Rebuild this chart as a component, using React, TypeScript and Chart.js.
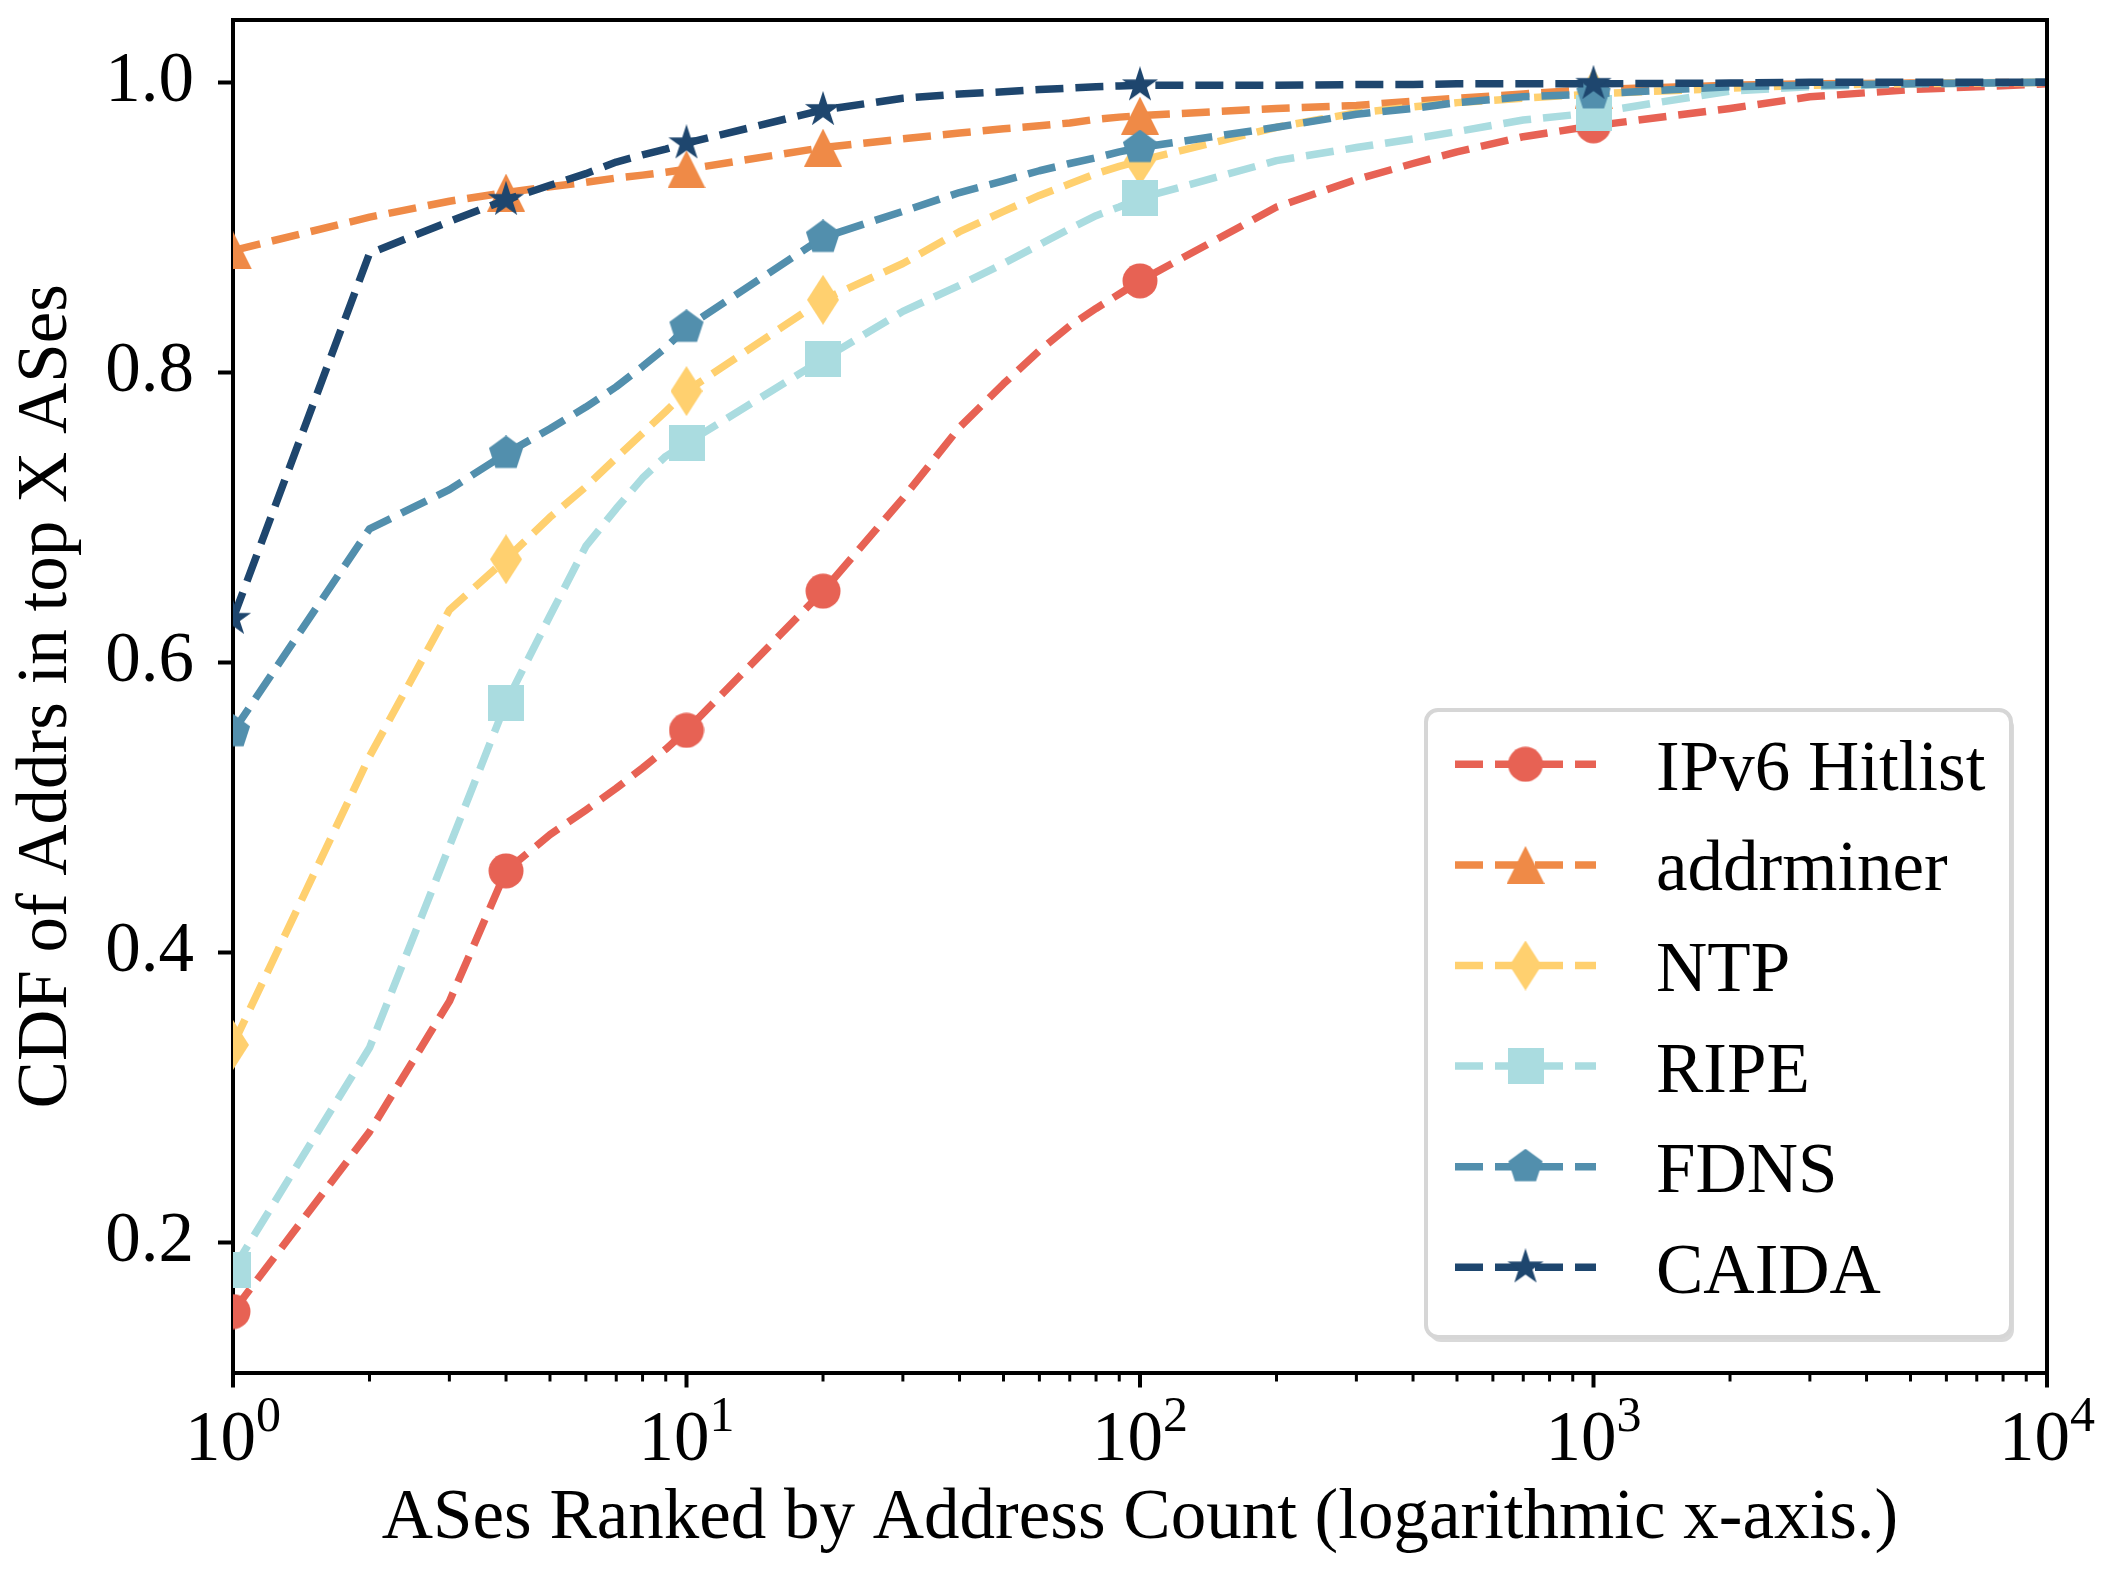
import React, { useEffect, useRef } from 'react';
import { Chart, registerables } from 'chart.js';

Chart.register(...registerables);

// ---------------- data ----------------
const ranks = [1, 2, 3, 4, 5, 6, 7, 8, 9, 10, 20, 30, 40, 50, 60, 70, 80, 90, 100, 200, 300, 400, 500, 700, 1000, 2000, 3000, 5000, 10000];

const ipv6Hitlist = [0.152, 0.276, 0.366, 0.456, 0.481, 0.498, 0.513, 0.527, 0.540, 0.553, 0.649, 0.713, 0.762, 0.792, 0.815, 0.832, 0.844, 0.854, 0.863, 0.914, 0.933, 0.944, 0.952, 0.9625, 0.970, 0.982, 0.990, 0.995, 0.999];
const addrminer = [0.884, 0.907, 0.918, 0.924, 0.928, 0.931, 0.934, 0.936, 0.938, 0.940, 0.955, 0.961, 0.965, 0.968, 0.970, 0.972, 0.9745, 0.976, 0.977, 0.982, 0.984, 0.987, 0.989, 0.992, 0.995, 0.998, 0.999, 0.9995, 1.0];
const ntp = [0.336, 0.535, 0.636, 0.671, 0.700, 0.721, 0.741, 0.758, 0.773, 0.787, 0.850, 0.875, 0.897, 0.911, 0.922, 0.930, 0.937, 0.942, 0.946, 0.969, 0.979, 0.983, 0.986, 0.989, 0.992, 0.996, 0.998, 0.999, 1.0];
const ripe = [0.181, 0.334, 0.473, 0.572, 0.632, 0.680, 0.706, 0.727, 0.742, 0.751, 0.809, 0.842, 0.860, 0.875, 0.888, 0.899, 0.908, 0.914, 0.920, 0.946, 0.955, 0.961, 0.966, 0.974, 0.979, 0.994, 0.997, 0.999, 1.0];
const fdns = [0.552, 0.692, 0.719, 0.744, 0.761, 0.776, 0.790, 0.804, 0.817, 0.831, 0.893, 0.911, 0.924, 0.932, 0.939, 0.944, 0.948, 0.952, 0.955, 0.969, 0.978, 0.982, 0.986, 0.990, 0.992, 0.997, 0.998, 0.999, 1.0];
const caida = [0.630, 0.882, 0.904, 0.919, 0.929, 0.937, 0.945, 0.950, 0.954, 0.958, 0.981, 0.989, 0.992, 0.9935, 0.995, 0.996, 0.997, 0.9975, 0.998, 0.998, 0.9985, 0.9985, 0.999, 0.999, 0.999, 0.9995, 1.0, 1.0, 1.0];

const seriesNames = ['IPv6 Hitlist', 'addrminer', 'NTP', 'RIPE', 'FDNS', 'CAIDA'];
const seriesValues = [ipv6Hitlist, addrminer, ntp, ripe, fdns, caida];
const seriesColors = ['#E76254', '#EF8A47', '#FFD06F', '#AADCE0', '#528FAD', '#1E466E'];
type Shape = 'circle' | 'triangle' | 'thinDiamond' | 'square' | 'pentagon' | 'star';
const seriesMarkers: Shape[] = ['circle', 'triangle', 'thinDiamond', 'square', 'pentagon', 'star'];
const markerRanks = [1, 4, 10, 20, 100, 1000];

const yTickValues = [0.2, 0.4, 0.6, 0.8, 1.0];
const xMajorTicks = [1, 10, 100, 1000, 10000];
const xTickExponents = ['0', '1', '2', '3', '4'];
const xMin = 1;
const xMax = 10000;
const yMin = 0.110;
const yMax = 1.043;
const xTitle = 'ASes Ranked by Address Count (logarithmic x-axis.)';
const yTitle = 'CDF of Addrs in top X ASes';

// ---------------- styling ----------------
const FONT = "'Liberation Serif', 'Times New Roman', serif";
const FS = 71;
const W = 2113;
const H = 1574;
const LW = 7.5;
const DASH = [28, 12];

function makeMarker(shape: Shape, color: string): HTMLCanvasElement {
  const c = document.createElement('canvas');
  let w = 36;
  let h = 36;
  if (shape === 'triangle') { w = 38; h = 38; }
  else if (shape === 'thinDiamond') { w = 32; h = 50; }
  else if (shape === 'star') { w = 38; h = 38; }
  c.width = w;
  c.height = h;
  const g = c.getContext('2d')!;
  g.fillStyle = color;
  g.beginPath();
  const cx = w / 2;
  const cy = h / 2;
  if (shape === 'circle') {
    g.arc(cx, cy, 17.5, 0, Math.PI * 2);
  } else if (shape === 'triangle') {
    g.moveTo(cx, 0); g.lineTo(w, h); g.lineTo(0, h);
  } else if (shape === 'thinDiamond') {
    g.moveTo(cx, 0); g.lineTo(w, cy); g.lineTo(cx, h); g.lineTo(0, cy);
  } else if (shape === 'square') {
    g.rect(0, 0, w, h);
  } else if (shape === 'pentagon') {
    const R = 18;
    for (let k = 0; k < 5; k++) {
      const a = -Math.PI / 2 + (k * 2 * Math.PI) / 5;
      const px = cx + R * Math.cos(a);
      const py = cy + R * Math.sin(a);
      if (k === 0) g.moveTo(px, py); else g.lineTo(px, py);
    }
  } else {
    const R = 19;
    const r = R * 0.381966;
    for (let k = 0; k < 10; k++) {
      const a = -Math.PI / 2 + (k * Math.PI) / 5;
      const rr = k % 2 === 0 ? R : r;
      const px = cx + rr * Math.cos(a);
      const py = cy + rr * Math.sin(a);
      if (k === 0) g.moveTo(px, py); else g.lineTo(px, py);
    }
  }
  g.closePath();
  g.fill();
  return c;
}

function roundRect(ctx: CanvasRenderingContext2D, x: number, y: number, w: number, h: number, r: number) {
  ctx.beginPath();
  ctx.moveTo(x + r, y);
  ctx.lineTo(x + w - r, y);
  ctx.arcTo(x + w, y, x + w, y + r, r);
  ctx.lineTo(x + w, y + h - r);
  ctx.arcTo(x + w, y + h, x + w - r, y + h, r);
  ctx.lineTo(x + r, y + h);
  ctx.arcTo(x, y + h, x, y + h - r, r);
  ctx.lineTo(x, y + r);
  ctx.arcTo(x, y, x + r, y, r);
  ctx.closePath();
}

function makeOverlay(markers: HTMLCanvasElement[]) {
  return {
    id: 'mplOverlay',
    afterDraw(chart: any) {
      const ctx: CanvasRenderingContext2D = chart.ctx;
      const a = chart.chartArea;
      const xs = chart.scales.x;
      ctx.save();
      ctx.strokeStyle = '#000';
      ctx.lineCap = 'butt';
      // top and right spines
      ctx.lineWidth = 4;
      ctx.beginPath();
      ctx.moveTo(a.left - 2, a.top);
      ctx.lineTo(a.right + 2, a.top);
      ctx.moveTo(a.right, a.top);
      ctx.lineTo(a.right, a.bottom + 2);
      ctx.stroke();
      // x ticks (major + minor)
      for (let d = 0; d < 4; d++) {
        for (let k = 1; k < 10; k++) {
          const v = k * Math.pow(10, d);
          const px = xs.getPixelForValue(v);
          const major = k === 1;
          ctx.lineWidth = major ? 4 : 3;
          ctx.beginPath();
          ctx.moveTo(px, a.bottom);
          ctx.lineTo(px, a.bottom + (major ? 15 : 9));
          ctx.stroke();
        }
      }
      {
        const px = xs.getPixelForValue(xMax);
        ctx.lineWidth = 4;
        ctx.beginPath();
        ctx.moveTo(px, a.bottom);
        ctx.lineTo(px, a.bottom + 15);
        ctx.stroke();
      }
      // x tick labels with superscripts
      ctx.fillStyle = '#000';
      ctx.textBaseline = 'alphabetic';
      ctx.textAlign = 'left';
      const baseY = a.bottom + 87;
      xMajorTicks.forEach((v, i) => {
        const px = xs.getPixelForValue(v);
        ctx.font = `${FS}px ${FONT}`;
        const wBase = ctx.measureText('10').width;
        ctx.font = `${Math.round(FS * 0.7)}px ${FONT}`;
        const wExp = ctx.measureText(xTickExponents[i]).width;
        const x0 = px - (wBase + wExp) / 2;
        ctx.font = `${FS}px ${FONT}`;
        ctx.fillText('10', x0, baseY);
        ctx.font = `${Math.round(FS * 0.7)}px ${FONT}`;
        ctx.fillText(xTickExponents[i], x0 + wBase, baseY - 29);
      });
      // legend
      const bx = 1426;
      const by = 710;
      const bw = 585;
      const bh = 627;
      ctx.fillStyle = 'rgba(0,0,0,0.15)';
      roundRect(ctx, bx + 3, by + 5, bw, bh, 12);
      ctx.fill();
      ctx.fillStyle = '#fff';
      roundRect(ctx, bx, by, bw, bh, 12);
      ctx.fill();
      ctx.strokeStyle = '#d6d6d6';
      ctx.lineWidth = 4;
      ctx.stroke();
      seriesNames.forEach((name, i) => {
        const cy = 764.3 + i * 100.6;
        ctx.strokeStyle = seriesColors[i];
        ctx.lineWidth = LW;
        ctx.setLineDash(DASH);
        ctx.beginPath();
        ctx.moveTo(1455, cy);
        ctx.lineTo(1596, cy);
        ctx.stroke();
        ctx.setLineDash([]);
        const m = markers[i];
        ctx.drawImage(m, 1525.5 - m.width / 2, cy - m.height / 2);
        ctx.fillStyle = '#000';
        ctx.font = `${FS}px ${FONT}`;
        ctx.fillText(name, 1656, cy + 25.5);
      });
      ctx.restore();
    },
  };
}

export default function App() {
  const ref = useRef<HTMLCanvasElement | null>(null);

  useEffect(() => {
    const canvas = ref.current;
    if (!canvas) return;
    Chart.defaults.font.family = FONT;
    const markers = seriesMarkers.map((s, i) => makeMarker(s, seriesColors[i]));
    const datasets = seriesNames.map((name, i) => ({
      label: name,
      data: ranks.map((r, j) => ({ x: r, y: seriesValues[i][j] })),
      borderColor: seriesColors[i],
      backgroundColor: seriesColors[i],
      borderWidth: LW,
      borderDash: DASH,
      borderCapStyle: 'butt' as const,
      borderJoinStyle: 'round' as const,
      tension: 0,
      fill: false,
      clip: 0,
      order: seriesNames.length - 1 - i,
      pointStyle: markers[i] as any,
      pointRadius: (c: any) => (markerRanks.includes(ranks[c.dataIndex]) ? 18 : 0),
      pointHoverRadius: 0,
      pointBorderWidth: 0,
    }));

    const chart = new Chart(canvas, {
      type: 'line',
      data: { datasets },
      options: {
        animation: false,
        responsive: false,
        events: [],
        layout: { padding: { left: 0, top: 20, right: 66, bottom: 0 } },
        plugins: {
          legend: { display: false },
          tooltip: { enabled: false },
        },
        scales: {
          x: {
            type: 'logarithmic',
            min: xMin,
            max: xMax,
            grid: { display: false },
            border: { display: true, color: '#000', width: 4 },
            ticks: { display: false },
            title: {
              display: true,
              text: xTitle,
              color: '#000',
              font: { family: FONT, size: FS },
              padding: { top: 0, bottom: 12 },
            },
            afterFit: (s: any) => {
              s.height = 201.5;
              s.paddingLeft = 0;
              s.paddingRight = 0;
            },
          },
          y: {
            type: 'linear',
            min: yMin,
            max: yMax,
            afterBuildTicks: (s: any) => { s.ticks = yTickValues.map((v) => ({ value: v })); },
            grid: {
              display: true,
              drawOnChartArea: false,
              drawTicks: true,
              tickLength: 15,
              tickWidth: 4,
              tickColor: '#000',
            },
            border: { display: true, color: '#000', width: 4 },
            ticks: {
              color: '#000',
              font: { family: FONT, size: FS },
              padding: 24,
              callback: (v: any) => Number(v).toFixed(1),
            },
            title: {
              display: true,
              text: yTitle,
              color: '#000',
              font: { family: FONT, size: FS },
              padding: { top: 5, bottom: 0 },
            },
            afterFit: (s: any) => {
              s.width = 233;
              s.paddingTop = 0;
              s.paddingBottom = 0;
            },
          },
        },
      },
      plugins: [makeOverlay(markers)],
    });
    return () => chart.destroy();
  }, []);

  return (
    <div style={{ position: 'absolute', left: 0, top: 0, width: W, height: H, background: '#fff' }}>
      <canvas ref={ref} width={W} height={H} style={{ width: W, height: H, display: 'block' }} />
    </div>
  );
}
